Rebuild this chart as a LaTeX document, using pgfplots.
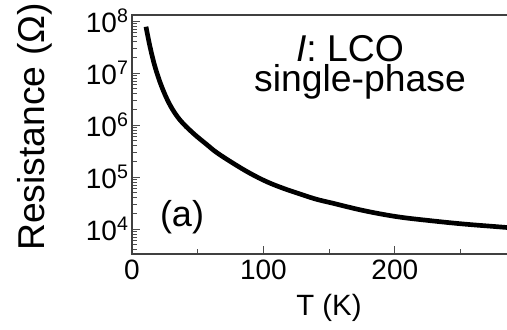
\documentclass[border=0pt]{standalone}
\usepackage{pgfplots}
\pgfplotsset{compat=1.18}
\usepackage{fontspec}
\setmainfont{Liberation Sans}
\begin{document}
\begin{tikzpicture}
\path[use as bounding box] (-99pt,-56.25pt) rectangle (281.25pt,190.5pt);
\begin{axis}[
  at={(0,0)}, anchor=south west,
  scale only axis,
  width=285.8pt, height=179.25pt,
  ymode=log,
  xmin=0, xmax=290,
  ymin=3311, ymax=1.303e8,
  xtick={0,100,200}, xticklabels={0,100,200},
  minor xtick={50,150,250},
  ytick={1e4,1e5,1e6,1e7,1e8},
  yticklabels={10\textsuperscript{4},10\textsuperscript{5},10\textsuperscript{6},10\textsuperscript{7},10\textsuperscript{8}},
  minor ytick={4e3,5e3,6e3,7e3,8e3,9e3,2e4,3e4,4e4,5e4,6e4,7e4,8e4,9e4,2e5,3e5,4e5,5e5,6e5,7e5,8e5,9e5,2e6,3e6,4e6,5e6,6e6,7e6,8e6,9e6,2e7,3e7,4e7,5e7,6e7,7e7,8e7,9e7},
  xtick pos=bottom, ytick pos=left,
  tick align=inside,
  major tick length=6pt, minor tick length=3.5pt,
  axis line style={line width=0.8pt, black!75},
  every tick/.style={black!70, line width=0.6pt},
  tick label style={font=\fontsize{21}{25}\selectfont},
  yticklabel style={xshift=1pt},
  xticklabel style={yshift=-1pt},
]
\addplot[black, line width=3.5pt, smooth, tension=0.6] coordinates {
(10.65,7.76e7) (13.7,3.21e7) (17.5,1.32e7) (22.6,5.46e6) (28.9,2.43e6)
(36.5,1.25e6) (46.65,6.92e5) (56.85,4.22e5) (64.5,2.95e5) (77.1,1.83e5)
(89.8,1.18e5) (102.5,8.13e4) (115.1,6.07e4) (127.9,4.71e4) (140.6,3.72e4)
(153.2,3.12e4) (176.0,2.27e4) (201.4,1.73e4) (226.8,1.45e4) (252.1,1.25e4)
(277.5,1.11e4) (285.4,1.07e4) (290,1.05e4)
};
\end{axis}
\node[anchor=base, inner sep=0pt, font=\fontsize{28}{32}\selectfont] at (163.5pt,144.5pt) {\textit{I}: LCO};
\node[anchor=base, inner sep=0pt, font=\fontsize{28}{32}\selectfont] at (171pt,121.7pt) {single-phase};
\node[anchor=base, font=\fontsize{27}{31}\selectfont] at (37.5pt,21pt) {(a)};
\node[anchor=base, rotate=90, font=\fontsize{28}{32}\selectfont] at (-65.25pt,95.25pt) {Resistance (Ω)};
\node[anchor=base, font=\fontsize{22}{26}\selectfont] at (147.75pt,-45.75pt) {T (K)};
\end{tikzpicture}
\end{document}
